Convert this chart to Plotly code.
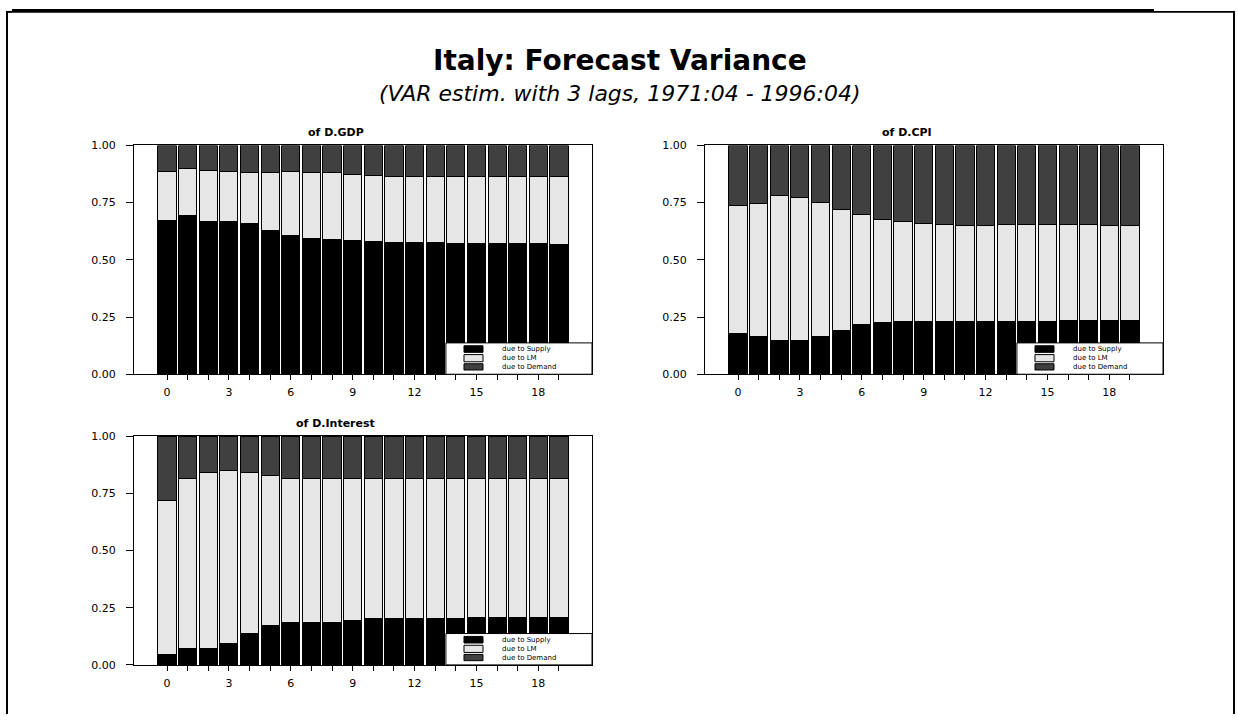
import plotly.graph_objects as go

# ---------------- data ----------------
horizons = list(range(20))
x_tick_labels = ["0", "", "", "3", "", "", "6", "", "", "9", "", "", "12", "", "", "15", "", "", "18", ""]
y_tick_vals = [0.0, 0.25, 0.5, 0.75, 1.0]
y_tick_labels = ["0.00", "0.25", "0.50", "0.75", "1.00"]
series_names = ["due to Supply", "due to LM", "due to Demand"]
panel_titles = ["of D.GDP", "of D.CPI", "of D.Interest"]

gdp_supply = [0.670, 0.692, 0.668, 0.668, 0.658, 0.629, 0.605, 0.593, 0.589, 0.586,
              0.582, 0.577, 0.575, 0.575, 0.573, 0.573, 0.572, 0.570, 0.570, 0.569]
gdp_lm = [0.217, 0.206, 0.223, 0.219, 0.225, 0.254, 0.280, 0.290, 0.292, 0.289,
          0.288, 0.288, 0.290, 0.290, 0.292, 0.292, 0.293, 0.295, 0.295, 0.296]
gdp_demand = [0.113, 0.102, 0.109, 0.113, 0.117, 0.117, 0.115, 0.117, 0.119, 0.125,
              0.130, 0.135, 0.135, 0.135, 0.135, 0.135, 0.135, 0.135, 0.135, 0.135]

cpi_supply = [0.179, 0.165, 0.146, 0.146, 0.166, 0.193, 0.216, 0.226, 0.231, 0.232,
              0.232, 0.232, 0.232, 0.232, 0.232, 0.232, 0.234, 0.234, 0.235, 0.235]
cpi_lm = [0.557, 0.583, 0.633, 0.628, 0.586, 0.529, 0.482, 0.452, 0.435, 0.426,
          0.421, 0.418, 0.418, 0.421, 0.421, 0.421, 0.419, 0.419, 0.415, 0.415]
cpi_demand = [0.264, 0.252, 0.221, 0.226, 0.248, 0.278, 0.302, 0.322, 0.334, 0.342,
              0.347, 0.350, 0.350, 0.347, 0.347, 0.347, 0.347, 0.347, 0.350, 0.350]

int_supply = [0.047, 0.072, 0.073, 0.093, 0.139, 0.174, 0.185, 0.185, 0.187, 0.192,
              0.201, 0.202, 0.204, 0.204, 0.205, 0.207, 0.208, 0.209, 0.209, 0.209]
int_lm = [0.672, 0.741, 0.766, 0.755, 0.700, 0.652, 0.631, 0.631, 0.629, 0.624,
          0.615, 0.611, 0.609, 0.612, 0.611, 0.609, 0.605, 0.604, 0.604, 0.604]
int_demand = [0.281, 0.187, 0.161, 0.152, 0.161, 0.174, 0.184, 0.184, 0.184, 0.184,
              0.184, 0.187, 0.187, 0.184, 0.184, 0.184, 0.187, 0.187, 0.187, 0.187]

panels_data = [
    (gdp_supply, gdp_lm, gdp_demand),
    (cpi_supply, cpi_lm, cpi_demand),
    (int_supply, int_lm, int_demand),
]

# ---------------- styling ----------------
W, H = 1238, 721
FONT = "DejaVu Sans"
colors = ["#000000", "#e6e6e6", "#404040"]

# plot areas in page pixels: (left, right, top, bottom)
boxes = [(134, 592, 142, 375), (705, 1163, 142, 375), (134, 592, 438, 671)]

fig = go.Figure()

for i, (vals, box) in enumerate(zip(panels_data, boxes)):
    sfx = "" if i == 0 else str(i + 1)
    for name, v, c in zip(series_names, vals, colors):
        fig.add_trace(go.Bar(
            x=horizons, y=v, name=name, width=0.88,
            marker=dict(color=c, line=dict(color="#000000", width=1)),
            xaxis="x" + sfx, yaxis="y" + sfx, showlegend=False,
        ))
    l, r, t, b = box
    fig.update_layout(**{
        "xaxis" + sfx: dict(
            domain=[l / W, r / W], anchor="y" + sfx, range=[-1.6, 20.6],
            tickmode="array", tickvals=horizons, ticktext=x_tick_labels,
            ticks="outside", ticklen=5, tickcolor="#000000", tickwidth=1,
            showline=True, linecolor="#000000", linewidth=1, mirror=True,
            showgrid=False, zeroline=False, fixedrange=True,
            tickfont=dict(family=FONT, size=11, color="#000000"),
            ticklabelstandoff=3,
        ),
        "yaxis" + sfx: dict(
            domain=[1 - b / H, 1 - t / H], anchor="x" + sfx, range=[0, 1],
            tickmode="array", tickvals=y_tick_vals, ticktext=y_tick_labels,
            ticks="outside", ticklen=7, tickcolor="#000000", tickwidth=1,
            showline=True, linecolor="#000000", linewidth=1, mirror=True,
            showgrid=False, zeroline=False, fixedrange=True,
            tickfont=dict(family=FONT, size=11, color="#000000"),
            ticklabelstandoff=8,
        ),
    })
    xd = "x" + sfx + " domain"
    yd = "y" + sfx + " domain"
    # panel title
    fig.add_annotation(
        text="<b>" + panel_titles[i] + "</b>", xref=xd, yref=yd, x=0.44, y=1,
        xanchor="center", yanchor="middle", yshift=13, showarrow=False,
        font=dict(family=FONT, size=11, color="#000000"),
    )
    # legend box
    fig.add_shape(type="rect", xref=xd, yref=yd, x0=0.681, x1=1.0, y0=0.0, y1=0.137,
                  fillcolor="#ffffff", line=dict(color="#000000", width=1))
    sw_y = [(0.0957, 0.1245), (0.0545, 0.0858), (0.0185, 0.0459)]
    txt_y = [0.110, 0.070, 0.032]
    for name, c, (y0, y1), ty in zip(series_names, colors, sw_y, txt_y):
        fig.add_shape(type="rect", xref=xd, yref=yd, x0=0.7205, x1=0.762, y0=y0, y1=y1,
                      fillcolor=c, line=dict(color="#000000", width=1))
        fig.add_annotation(text=name, xref=xd, yref=yd, x=0.799, y=ty,
                           xanchor="left", yanchor="middle", showarrow=False,
                           font=dict(family=FONT, size=7, color="#000000"))

# main titles
fig.add_annotation(text="<b>Italy: Forecast Variance</b>", xref="paper", yref="paper",
                   x=620 / W, y=1 - 56 / H, xanchor="center", yanchor="middle",
                   showarrow=False, font=dict(family=FONT, size=28, color="#000000"))
fig.add_annotation(text="<i>(VAR estim. with 3 lags, 1971:04 - 1996:04)</i>",
                   xref="paper", yref="paper", x=620 / W, y=1 - 89 / H,
                   xanchor="center", yanchor="middle", showarrow=False,
                   font=dict(family=FONT, size=22, color="#000000"))

# page frame
def prect(x0, x1, y0, y1):
    fig.add_shape(type="rect", xref="paper", yref="paper",
                  x0=x0 / W, x1=x1 / W, y0=1 - y1 / H, y1=1 - y0 / H,
                  fillcolor="#000000", line=dict(width=0))

prect(12, 1154, 3, 7)
prect(6, 12, 5, 7)
prect(6, 8, 5, 721)
prect(1154, 1235, 5, 7)
prect(1233, 1235, 5, 721)

fig.update_layout(
    width=W, height=H, margin=dict(l=0, r=0, t=0, b=0),
    paper_bgcolor="#ffffff", plot_bgcolor="#ffffff",
    barmode="stack", showlegend=False,
    font=dict(family=FONT, color="#000000"),
)

fig.write_html("out.html", config={"displayModeBar": False},
               post_script="document.body.style.margin='0px';")
